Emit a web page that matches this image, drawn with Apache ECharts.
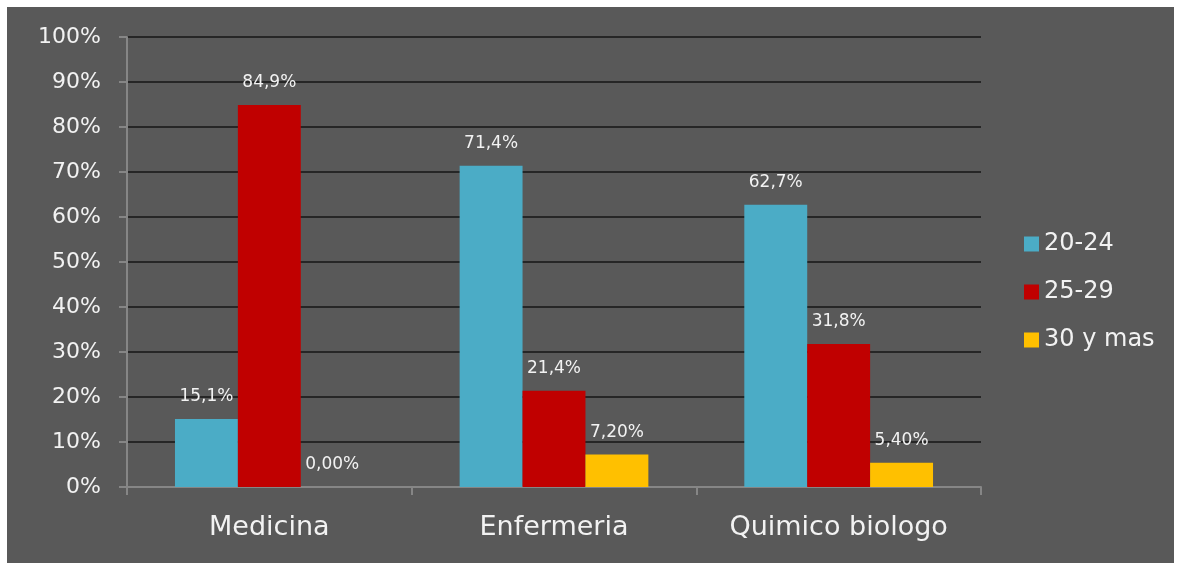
<!DOCTYPE html>
<html><head><meta charset="utf-8">
<script src="https://cdn.jsdelivr.net/npm/echarts@6/dist/echarts.min.js"></script>
<style>
html,body{margin:0;padding:0;background:#fff;}
#c{position:absolute;left:7px;top:7px;width:1167px;height:556px;background:#595959;}
</style></head><body>
<div id="c"></div>
<script>
const categories = ["Medicina", "Enfermeria", "Quimico biologo"];
const seriesNames = ["20-24", "25-29", "30 y mas"];
const values2024 = [15.1, 71.4, 62.7];
const values2529 = [84.9, 21.4, 31.8];
const values30 = [0.0, 7.2, 5.4];
const labels2024 = ["15,1%", "71,4%", "62,7%"];
const labels2529 = ["84,9%", "21,4%", "31,8%"];
const labels30 = ["0,00%", "7,20%", "5,40%"];
const colors = ["#4bacc6", "#c00000", "#ffc000"];

const font = "'DejaVu Sans', sans-serif";
const chart = echarts.init(document.getElementById('c'));
function mk(name, vals, labs, color){
  return {
    name: name, type: 'bar', data: vals, barGap: '0%', barCategoryGap: '33.7%',
    itemStyle: {color: color},
    label: {show: true, position: 'top', distance: 14, color: '#f2f2f2', fontSize: 17, fontFamily: font,
      formatter: p => labs[p.dataIndex]}
  };
}
chart.setOption({
  animation: false,
  grid: {left: 120, top: 30, width: 854, height: 450, containLabel: false},
  legend: {
    orient: 'vertical', left: 1017, top: 225, padding: 0, itemWidth: 15, itemHeight: 15, itemGap: 24,
    icon: 'rect',
    textStyle: {color: '#f2f2f2', fontSize: 24, fontFamily: font},
    data: seriesNames
  },
  xAxis: {
    type: 'category', data: categories,
    axisLine: {lineStyle: {color: '#868686', width: 2}},
    axisTick: {show: true, length: 8, lineStyle: {color: '#868686', width: 2}},
    axisLabel: {color: '#f2f2f2', fontSize: 27, fontFamily: font, margin: 27}
  },
  yAxis: {
    type: 'value', min: 0, max: 100, interval: 10,
    axisLine: {show: true, lineStyle: {color: '#868686', width: 2}},
    axisTick: {show: true, length: 8, lineStyle: {color: '#868686', width: 2}},
    splitLine: {lineStyle: {color: '#262626', width: 2}},
    axisLabel: {color: '#f2f2f2', fontSize: 22, fontFamily: font, margin: 26, formatter: v => v + '%'}
  },
  series: [
    mk(seriesNames[0], values2024, labels2024, colors[0]),
    mk(seriesNames[1], values2529, labels2529, colors[1]),
    mk(seriesNames[2], values30, labels30, colors[2])
  ]
});
</script>
</body></html>
